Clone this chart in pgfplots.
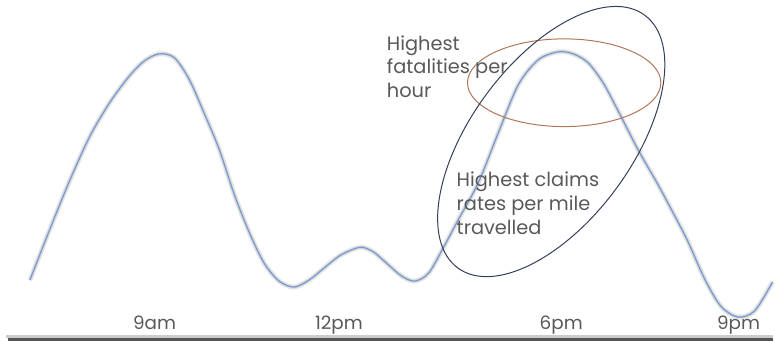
\documentclass[border=0pt]{standalone}
\usepackage{pgfplots}
\pgfplotsset{compat=1.18}
\usepackage{fontspec}
\setmainfont{Poppins}

\definecolor{curveblue}{RGB}{114,153,214}
\definecolor{ringorange}{RGB}{176,118,88}
\definecolor{ringnavy}{RGB}{52,62,88}
\definecolor{labelgray}{RGB}{89,89,89}
\definecolor{basegray}{RGB}{85,85,85}

% traffic-activity profile over the day
\pgfplotstableread{
x y
30 62
50 113
70 162
90 206
110 240
130 267
145 282
160 289
175 285
190 263
205 229
220 193
235 148
250 110
265 79
280 61
295 55
310 62
325 74
340 86
352 92
363 95
375 90
390 77
403 66
416 61
430 69
445 95
460 123
480 160
500 210
520 258
540 283
560 291
575 289
590 280
605 260
620 232
640 193
660 158
675 130
690 101
707 63
723 36
740 25
757 31
775 60
}\profile

\begin{document}
\begin{tikzpicture}
\begin{axis}[
  scale only axis,
  width=775bp, height=343bp,
  xmin=0, xmax=775, ymin=0, ymax=343,
  axis line style={draw=none},
  tick style={draw=none},
  ytick=\empty,
  xtick={155,340,563,741},
  xticklabels={9am,12pm,6pm,9pm},
  xticklabel style={anchor=base, yshift=12bp, text=labelgray,
    font=\fontsize{18.5}{22}\selectfont},
  clip=false,
]
% base line with its soft shadow
\draw[black!20, line width=3bp] (axis cs:6,5) -- (axis cs:775,5);
\draw[basegray, line width=3bp] (axis cs:8,2) -- (axis cs:775,2);

% halo under the curve
\addplot[black!12, line width=5bp, smooth, opacity=0.8] table[x=x,y=y] {\profile};
\addplot[black!18, line width=2.5bp, smooth] table[x=x,y=y] {\profile};
\addplot[curveblue, line width=1.1bp, smooth] table[x=x,y=y] {\profile};

% highlighted regions
\draw[ringorange, line width=1bp] (axis cs:566,260) ellipse [x radius=97bp, y radius=44bp];
\draw[ringnavy, line width=1bp, rotate around={53.5:(axis cs:553,201)}]
  (axis cs:553,201) ellipse [x radius=157.7bp, y radius=80.5bp];

% the node's base is the baseline of its last line
\node[anchor=base west, align=left, text=labelgray, inner sep=0pt,
  font=\fontsize{19.5}{24}\selectfont] at (axis cs:388,245)
  {Highest\\fatalities per\\hour};
\node[anchor=base west, align=left, text=labelgray, inner sep=0pt,
  font=\fontsize{19.5}{24}\selectfont] at (axis cs:458,108)
  {Highest claims\\rates per mile\\travelled};
\end{axis}
\end{tikzpicture}
\end{document}
